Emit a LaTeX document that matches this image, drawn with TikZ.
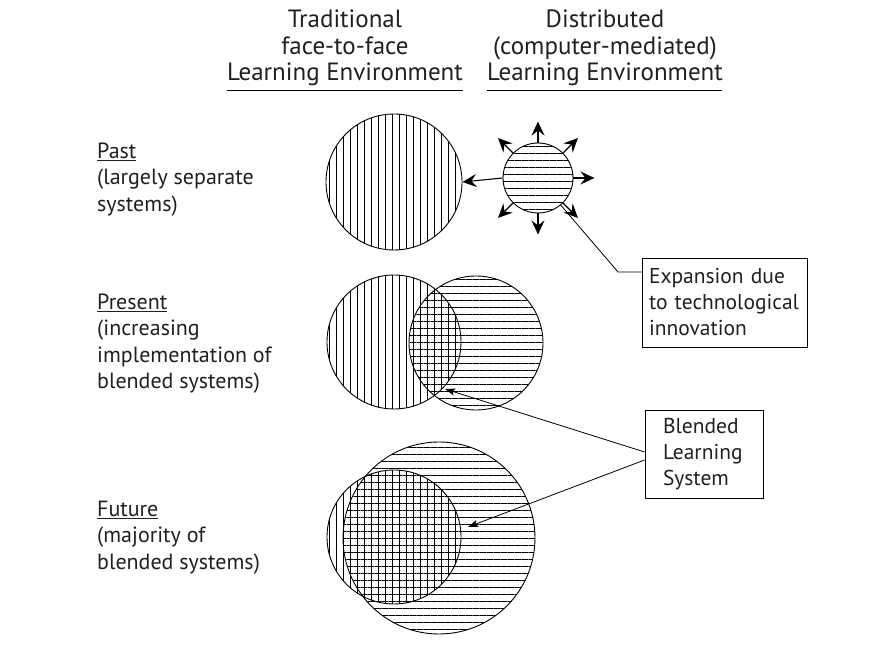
\documentclass[tikz,border=0pt]{standalone}
\usepackage{fontspec}
\setmainfont{PT Sans}
\usetikzlibrary{arrows.meta,patterns.meta,positioning}
\definecolor{ink}{HTML}{231F20}

\tikzset{
  vlines/.style={pattern={Lines[angle=90,distance=7pt,line width=0.9pt]}},
  hlines/.style={pattern={Lines[angle=0,distance=7pt,line width=0.9pt]}},
  env/.style={circle,draw,line width=0.9pt,inner sep=0pt,minimum size=#1},
  heading/.style={align=center,text=ink,font=\fontsize{25}{26.5}\selectfont,inner sep=0pt},
  phase/.style={align=left,anchor=west,text=ink,font=\fontsize{22}{26.5}\selectfont,inner sep=0pt},
  callout/.style={draw,line width=0.8pt,align=left,text=ink,
    font=\fontsize{21.5}{26}\selectfont,inner ysep=4pt},
  spread/.style={line width=1.1pt,-{Stealth[length=14pt,width=13pt,inset=5pt]}},
  point/.style={line width=0.8pt,-{Stealth[length=10pt,width=7pt,inset=2pt]}}
}

\begin{document}
\begin{tikzpicture}[x=1pt,y=1pt]
  \useasboundingbox (0,0) rectangle (887,664);

  % column headings
  \node[heading] (trad) at (345,616) {Traditional\\face-to-face\\Learning Environment};
  \node[heading] (distr) at (605,616) {Distributed\\(computer-mediated)\\Learning Environment};
  \draw[line width=0.8pt] (227,574) -- (463,574);
  \draw[line width=0.8pt] (487,574) -- (722,574);

  % row labels
  \node[phase] (past) at (97,484.5) {\underline{Past}\\(largely separate\\systems)};
  \node[phase] (present) at (97,320.5) {\underline{Present}\\(increasing\\implementation of\\blended systems)};
  \node[phase] (future) at (97,126.5) {\underline{Future}\\(majority of\\blended systems)};

  % past
  \node[env=136pt,vlines] (pastT) at (394,482) {};
  \node[env=70pt,hlines] (pastD) at (538,486) {};
  \draw[spread] (pastD.west) -- (pastT.east);
  \foreach \a in {0,45,90,135,225,270,315}
    \draw[spread] (pastD.\a) -- ++(\a:21);

  % present
  \node[env=134pt,vlines] (presT) at (394,322) {};
  \node[env=134pt,hlines] (presD) at (476,321) {};

  % future
  \node[env=192pt,hlines] (futD) at (439,126) {};
  \node[env=134pt,vlines] (futT) at (394,127) {};

  % callouts
  \node[callout,text width=151pt,minimum height=89pt,inner xsep=7pt] (expbox) at (724.5,361.5)
    {Expansion due\\\mbox{to technological}\\innovation};
  \node[callout,text width=82pt,minimum height=88pt,inner xsep=18pt] (blendbox) at (704,210)
    {Blended\\Learning\\System};

  \coordinate (elbow) at (618,392);
  \draw[line width=0.8pt] (pastD.-50) -- (elbow) -- (elbow -| expbox.west);

  \coordinate (presTip) at (445,275);
  \coordinate (futTip) at (468,137);
  \draw[point] ([yshift=2pt]blendbox.west) -- (presTip);
  \draw[point] ([yshift=-6pt]blendbox.west) -- (futTip);
\end{tikzpicture}
\end{document}
